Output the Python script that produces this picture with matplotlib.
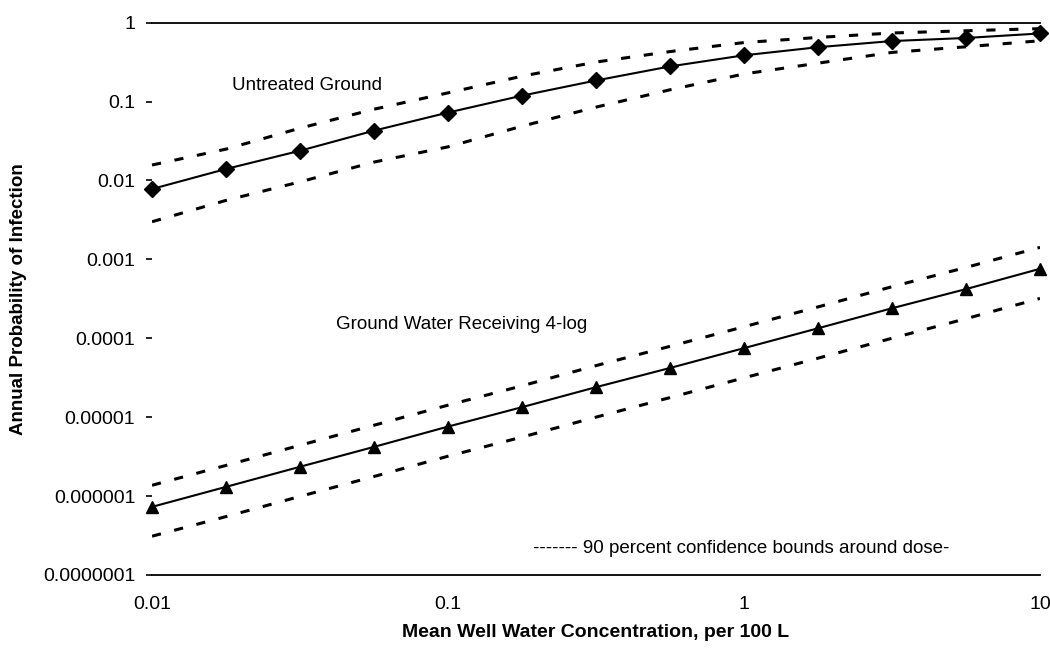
import numpy as np
import matplotlib
matplotlib.use('Agg')
from matplotlib import pyplot as plt

plt.rcParams['font.family'] = ['Liberation Sans', 'DejaVu Sans']

# concentration, per 100 L (quarter-decade steps)
conc = [0.01, 0.0178, 0.0316, 0.0562, 0.1, 0.178, 0.316, 0.562, 1.0, 1.78, 3.16, 5.62, 10.0]

# untreated ground water
untreated = [0.0078, 0.0140, 0.0238, 0.0428, 0.0726, 0.119, 0.185, 0.279, 0.386, 0.489, 0.585, 0.64, 0.73]
untreated_hi = [0.0157, 0.025, 0.046, 0.080, 0.129, 0.21, 0.317, 0.43, 0.56, 0.65, 0.74, 0.79, 0.84]
untreated_lo = [0.0030, 0.0056, 0.0096, 0.0171, 0.0267, 0.0488, 0.085, 0.141, 0.224, 0.307, 0.42, 0.495, 0.59]

# ground water receiving 4-log
treated = [7.3e-7, 1.31e-6, 2.35e-6, 4.2e-6, 7.6e-6, 1.34e-5, 2.4e-5, 4.2e-5, 7.5e-5, 1.34e-4, 2.4e-4, 4.2e-4, 7.6e-4]
treated_hi = [1.37e-6, 2.45e-6, 4.4e-6, 7.9e-6, 1.42e-5, 2.5e-5, 4.5e-5, 7.9e-5, 1.4e-4, 2.5e-4, 4.5e-4, 7.9e-4, 1.42e-3]
treated_lo = [3.1e-7, 5.5e-7, 9.9e-7, 1.77e-6, 3.2e-6, 5.6e-6, 1.0e-5, 1.77e-5, 3.15e-5, 5.6e-5, 1.0e-4, 1.77e-4, 3.2e-4]

xticks = [0.01, 0.1, 1, 10]
xlabels = ['0.01', '0.1', '1', '10']
yticks = [1, 0.1, 0.01, 0.001, 0.0001, 0.00001, 0.000001, 0.0000001]
ylabels = ['1', '0.1', '0.01', '0.001', '0.0001', '0.00001', '0.000001', '0.0000001']

fig = plt.figure(figsize=(10.5, 6.48), dpi=100)
ax = fig.add_axes([0.1448, 0.1127, 0.8457, 0.8523])

dash = (0, (3, 4.5))
ax.plot(conc, untreated, color='black', lw=1.5, marker='D', ms=8, zorder=3, clip_on=False)
ax.plot(conc, untreated_hi, color='black', lw=2.2, ls=dash, clip_on=False)
ax.plot(conc, untreated_lo, color='black', lw=2.2, ls=dash)

ax.plot(conc, treated, color='black', lw=1.5, marker='^', ms=9, zorder=3, clip_on=False)
ax.plot(conc, treated_hi, color='black', lw=2.2, ls=dash)
ax.plot(conc, treated_lo, color='black', lw=2.2, ls=dash)

ax.set_xscale('log')
ax.set_yscale('log')
ax.set_xlim(0.01, 10)
ax.set_ylim(1e-7, 1)

ax.minorticks_off()
ax.set_xticks(xticks)
ax.set_xticklabels(xlabels)
ax.set_yticks(yticks)
ax.set_yticklabels(ylabels)
ax.tick_params(axis='x', length=0, pad=15, labelsize=14)
ax.tick_params(axis='y', length=4, width=1.2, pad=8, labelsize=14)

for s in ['left', 'right']:
    ax.spines[s].set_visible(False)
for s in ['top', 'bottom']:
    ax.spines[s].set_linewidth(1.3)

ax.text(0.0186, 0.158, 'Untreated Ground', fontsize=13.5, va='center', ha='left')
ax.text(0.0419, 1.5e-4, 'Ground Water Receiving 4-log', fontsize=13.5, va='center', ha='left')
ax.text(0.194, 2.15e-7, '------- 90 percent confidence bounds around dose-', fontsize=13.5, va='center', ha='left')

ax.set_xlabel('Mean Well Water Concentration, per 100 L', fontsize=14, fontweight='bold', labelpad=8)
ax.set_ylabel('Annual Probability of Infection', fontsize=13.5, fontweight='bold')
ax.yaxis.set_label_coords(-0.141, 0.5)

fig.savefig('out.png', dpi=100)
